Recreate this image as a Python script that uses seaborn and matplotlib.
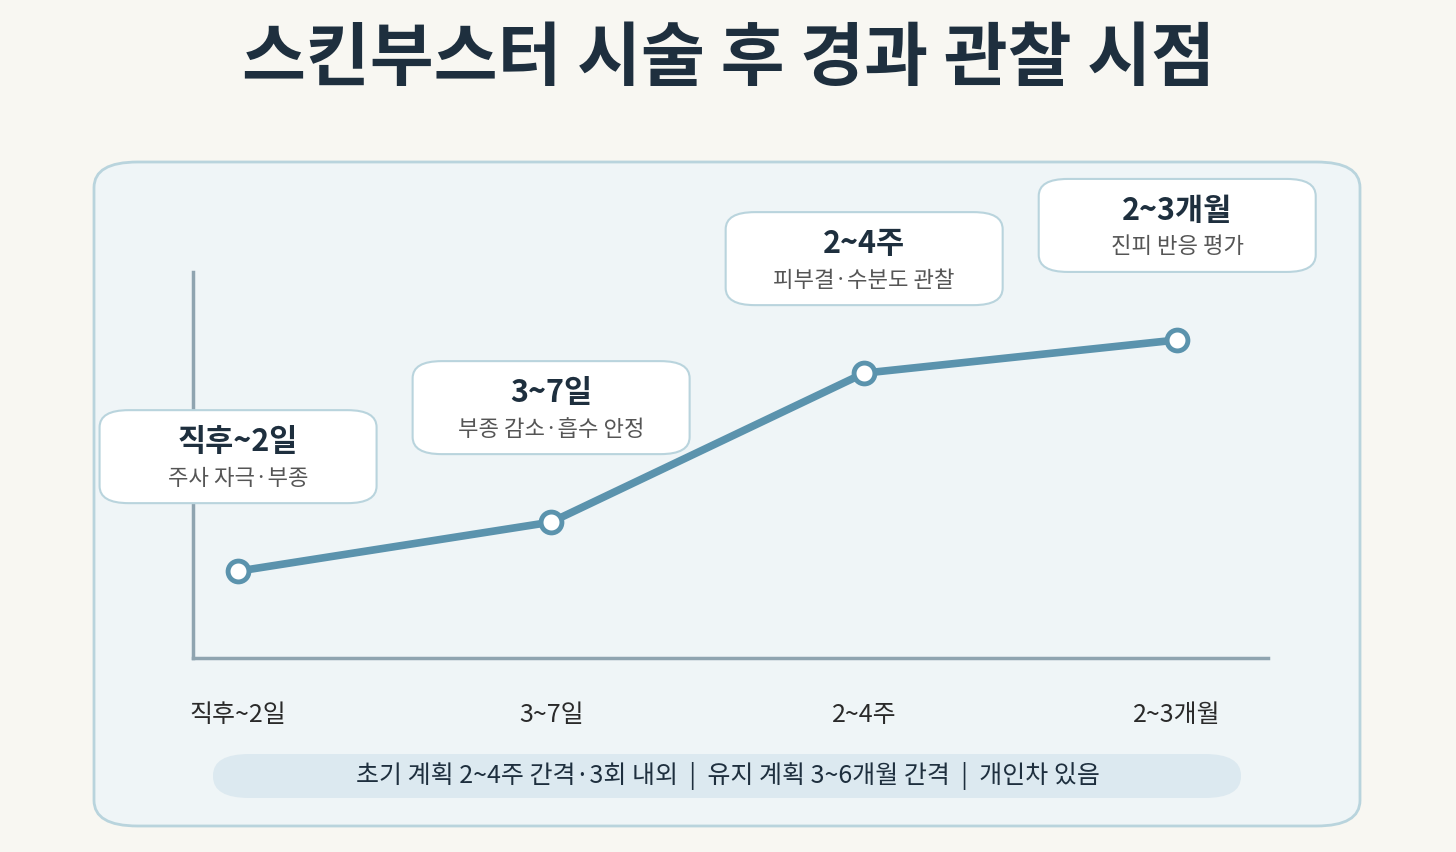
import matplotlib
matplotlib.use("Agg")
import matplotlib.pyplot as plt
import seaborn as sns
import pandas as pd
from matplotlib.patches import FancyBboxPatch

stages = ["직후~2일", "3~7일", "2~4주", "2~3개월"]
values = [22.5, 35.2, 73.8, 82.4]
box_titles = ["직후~2일", "3~7일", "2~4주", "2~3개월"]
box_subs = ["주사 자극·부종", "부종 감소·흡수 안정", "피부결·수분도 관찰", "진피 반응 평가"]
title = "스킨부스터 시술 후 경과 관찰 시점"
footer = "초기 계획 2~4주 간격·3회 내외  |  유지 계획 3~6개월 간격  |  개인차 있음"

sns.set_theme(style="white")
plt.rcParams['font.family'] = ['Noto Sans CJK KR', 'DejaVu Sans']

W, H = 1456, 852
fig = plt.figure(figsize=(W/100, H/100), dpi=100)
fig.patch.set_facecolor("#f8f7f2")

def fx(x): return x / W
def fy(y): return 1 - y / H

# panel
fig.patches.append(FancyBboxPatch((fx(94), fy(826)), fx(1360-94), (826-162)/H,
    boxstyle="round,pad=0,rounding_size=0.03", transform=fig.transFigure,
    facecolor="#eff5f7", edgecolor="#b9d4dd", linewidth=2, zorder=-2))

fig.text(0.5, fy(60), title, ha="center", va="center", fontsize=50,
         fontweight="bold", color="#1e2f3e")

ax = fig.add_axes([fx(193), fy(658), fx(1268-193), (658-272)/H])
ax.set_zorder(1)
ax.set_facecolor("none")
df = pd.DataFrame({"stage": range(4), "value": values})
sns.lineplot(data=df, x="stage", y="value", ax=ax, color="#5b93ad", linewidth=5.5,
             marker="o", markersize=15, markerfacecolor="white",
             markeredgecolor="#5b93ad", markeredgewidth=3.5, zorder=5, clip_on=False)
ax.set_xlim(-0.144, 3.29)
ax.set_ylim(0, 100)
for s in ["top", "right"]:
    ax.spines[s].set_visible(False)
for s in ["left", "bottom"]:
    ax.spines[s].set_color("#8fa4b0")
    ax.spines[s].set_linewidth(2.5)
ax.set_xticks(range(4))
ax.set_xticklabels(stages, fontsize=18, color="#2a2a2a", fontweight="medium")
ax.tick_params(axis="x", length=0, pad=32)
ax.set_yticks([])
ax.set_xlabel("")
ax.set_ylabel("")

fig.canvas.draw()
inv = fig.transFigure.inverted()
bw, bh = 277, 93
for i in range(4):
    px, py = ax.transData.transform((i, values[i]))
    left = px - bw/2
    bottom = py + 68
    (x0, y0) = inv.transform((left, bottom))
    (x1, y1) = inv.transform((left + bw, bottom + bh))
    fig.patches.append(FancyBboxPatch((x0, y0), x1-x0, y1-y0,
        boxstyle="round,pad=0,rounding_size=0.02", transform=fig.transFigure,
        facecolor="white", edgecolor="#b9d4dd", linewidth=1.5, zorder=3))
    cx = (x0 + x1) / 2
    fig.text(cx, y0 + (y1-y0)*0.66, box_titles[i], ha="center", va="center",
             fontsize=22, fontweight="bold", color="#1e2f3e", zorder=4)
    fig.text(cx, y0 + (y1-y0)*0.27, box_subs[i], ha="center", va="center",
             fontsize=16, color="#555555", zorder=4)

# footer pill
fig.patches.append(FancyBboxPatch((fx(213), fy(798)), fx(1241-213), 44/H,
    boxstyle="round,pad=0,rounding_size=0.025", transform=fig.transFigure,
    facecolor="#dce9f0", edgecolor="none", zorder=-1))
fig.text(0.5, fy(776), footer, ha="center", va="center", fontsize=18,
         fontweight="medium", color="#1e2f3e")

fig.savefig("out.png", dpi=100, facecolor=fig.get_facecolor())
